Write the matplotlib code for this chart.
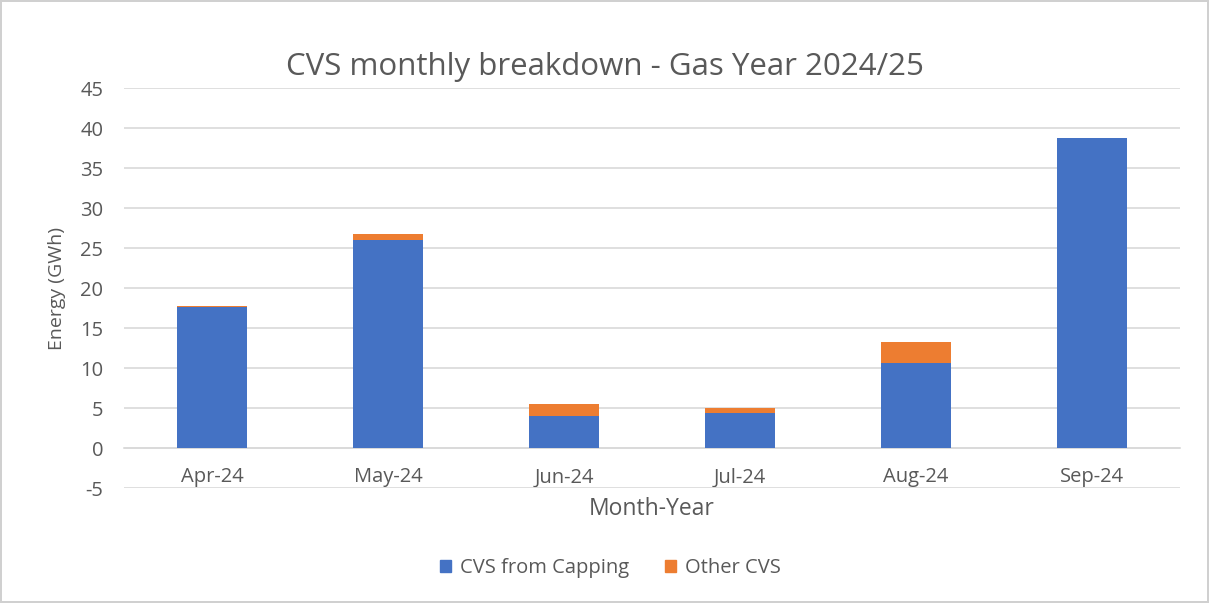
import matplotlib
matplotlib.use("Agg")
import matplotlib.pyplot as plt
import matplotlib.patches as mpatches
import numpy as np

months = ["Apr-24", "May-24", "Jun-24", "Jul-24", "Aug-24", "Sep-24"]
capping = [17.6, 26.0, 4.0, 4.4, 10.6, 38.8]
other = [0.2, 0.7, 1.5, 0.65, 2.6, 0.0]

BLUE = "#4472C4"
ORANGE = "#ED7D31"
GRID = "#D9D9D9"
TEXT = "#595959"

plt.rcParams["font.family"] = ["Open Sans", "DejaVu Sans"]
plt.rcParams["axes.unicode_minus"] = False

fig = plt.figure(figsize=(12.09, 6.03), dpi=100)
fig.patch.set_facecolor("white")
fig.patch.set_edgecolor("#D0D0D0")
fig.patch.set_linewidth(1.5)

ax = fig.add_axes([0.1026, 0.1907, 0.8734, 0.6633])
x = np.arange(len(months))
ax.bar(x, capping, width=0.4, color=BLUE, zorder=3, label="CVS from Capping")
ax.bar(x, other, width=0.4, bottom=capping, color=ORANGE, zorder=3, label="Other CVS")

ax.set_xlim(-0.5, len(months) - 0.5)
ax.set_ylim(-5, 45)
ax.set_yticks(range(-5, 46, 5))
ax.grid(axis="y", color=GRID, linewidth=1.2, zorder=0)
for s in ["top", "right", "left"]:
    ax.spines[s].set_visible(False)
ax.spines["bottom"].set_position(("data", 0))
ax.spines["bottom"].set_color(GRID)
ax.spines["bottom"].set_linewidth(1.2)
ax.set_xticks(x)
ax.set_xticklabels(months)
ax.tick_params(axis="x", length=0, pad=14, labelsize=14.5, labelcolor=TEXT)
ax.tick_params(axis="y", length=0, pad=15, labelsize=14.5, labelcolor=TEXT)

ax.set_xlabel("Month-Year", fontsize=16.5, color=TEXT)
ax.xaxis.set_label_coords(0.5, -0.022)
ax.set_ylabel("Energy (GWh)", fontsize=14, color=TEXT)
ax.yaxis.set_label_coords(-0.055, 0.5)

fig.suptitle("CVS monthly breakdown - Gas Year 2024/25", fontsize=22.5, color=TEXT, y=0.913)

handles = [mpatches.Patch(color=BLUE, label="CVS from Capping"),
           mpatches.Patch(color=ORANGE, label="Other CVS")]
fig.legend(handles=handles, loc="center", bbox_to_anchor=(0.505, 0.058), ncol=2,
           frameon=False, fontsize=14.5, labelcolor=TEXT, handlelength=0.55,
           handleheight=0.55, handletextpad=0.45, columnspacing=1.8)

fig.savefig("out.png", dpi=100)
